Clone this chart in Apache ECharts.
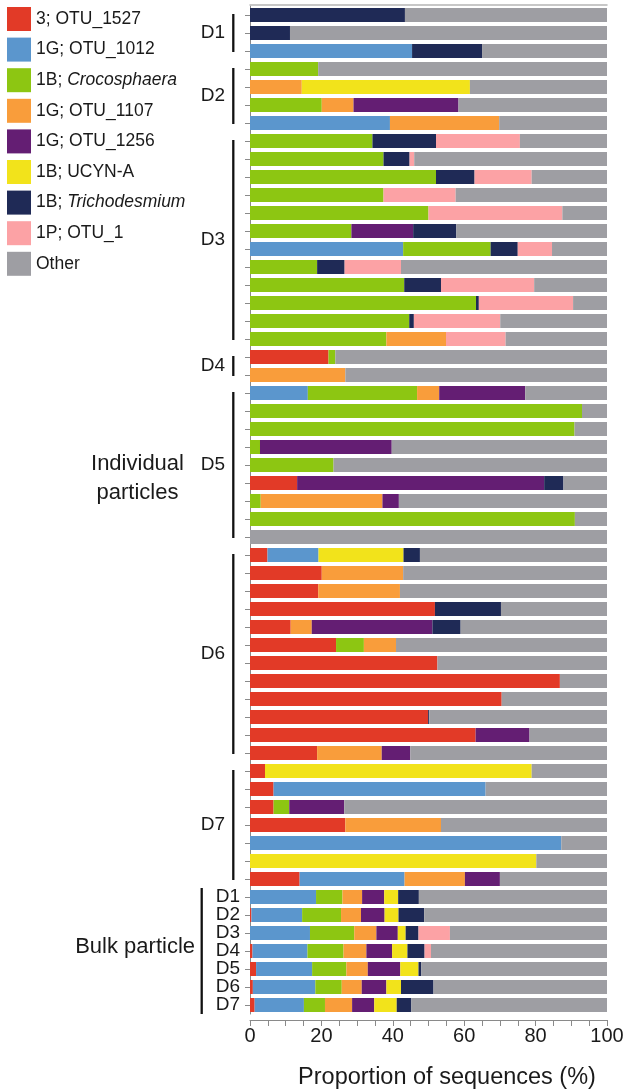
<!DOCTYPE html>
<html><head><meta charset="utf-8">
<script src="https://cdn.jsdelivr.net/npm/echarts@6/dist/echarts.min.js"></script>
<style>html,body{margin:0;padding:0;background:#fff}#c{width:634px;height:1090px}</style>
</head><body><div id="c"></div>
<script>
// Groups of individual particles (top to bottom) and bulk samples
const groupNames = ['D1','D2','D3','D4','D5','D6','D7'];
const groupSizes = [3,4,12,2,9,12,7];
const bulkLabels = ['D1','D2','D3','D4','D5','D6','D7'];
const xTicks = [0,20,40,60,80,100];

const seriesNames = ['3; OTU_1527','1G; OTU_1012','1B; Crocosphaera','1G; OTU_1107','1G; OTU_1256','1B; UCYN-A','1B; Trichodesmium','1P; OTU_1','Other'];

// Segment lengths (%) per bar, order: D1(3) D2(4) D3(12) D4(2) D5(9) D6(12) D7(7) Bulk(7)
const otu1527 = [0,0,0, 0,0,0,0, 0,0,0,0,0,0,0,0,0,0,0,0, 22.0,0, 0,0,0,0,0,13.2,0,0,0,
  4.9,20.1,19.1,51.8,11.4,24.1,52.5,86.8,70.5,49.9,63.2,18.8, 4.2,6.6,6.6,26.7,0,0,13.9,
  0,0.4,0,0.7,1.7,0.8,1.3];
const otu1012 = [0,0,45.4, 0,0,0,39.2, 0,0,0,0,0,0,42.9,0,0,0,0,0, 0,0, 16.2,0,0,0,0,0,0,0,0,
  14.3,0,0,0,0,0,0,0,0,0,0,0, 0,59.4,0,0,87.2,0,29.4,
  18.5,14.2,16.8,15.4,15.7,17.5,13.8];
const crocosphaera = [0,0,0, 19.1,0,20.1,0, 34.3,37.4,52.1,37.4,50.0,28.4,24.5,18.8,43.2,63.3,44.6,38.2, 1.9,0,
  30.6,93.0,90.9,2.8,23.4,0,3.0,91.0,0,
  0,0,0,0,0,7.8,0,0,0,0,0,0, 0,0,4.4,0,0,0,0,
  7.4,10.9,12.4,10.1,9.6,7.4,5.9];
const otu1107 = [0,0,0, 0,14.5,8.9,30.6, 0,0,0,0,0,0,0,0,0,0,0,16.7, 0,26.7,
  6.2,0,0,0,0,0,34.1,0,0,
  0,22.8,22.9,0,5.9,9.0,0,0,0,0,0,18.1, 0,0,0,26.8,0,0,16.9,
  5.5,5.6,6.2,6.4,6.0,5.6,7.6];
const otu1256 = [0,0,0, 0,0,29.4,0, 0,0,0,0,0,17.3,0,0,0,0,0,0, 0,0,
  24.1,0,0,36.9,0,69.2,4.6,0,0,
  0,0,0,0,33.8,0,0,0,0,0,15.1,8.0, 0,0,15.4,0,0,0,9.8,
  6.2,6.6,6.0,7.2,9.1,6.9,6.2];
const ucynA = [0,0,0, 0,47.1,0,0, 0,0,0,0,0,0,0,0,0,0,0,0, 0,0,
  0,0,0,0,0,0,0,0,0,
  23.8,0,0,0,0,0,0,0,0,0,0,0, 74.7,0,0,0,0,80.2,0,
  3.9,3.9,2.2,4.3,5.1,4.1,6.3];
const trichodesmium = [43.4,11.2,19.6, 0,0,0,0, 17.8,7.3,10.8,0,0,12.1,7.6,7.7,10.3,0.8,1.3,0, 0,0,
  0,0,0,0,0,5.4,0,0,0,
  4.6,0,0,18.5,7.9,0,0,0,0,0.3,0,0, 0,0,0,0,0,0,0,
  5.8,7.2,3.6,4.8,0.8,9.1,4.1];
const otu1 = [0,0,0, 0,0,0,0, 23.5,1.3,16.0,20.2,37.5,0,9.6,15.8,26.1,26.4,24.2,16.7, 0,0,
  0,0,0,0,0,0,0,0,0,
  0,0,0,0,0,0,0,0,0,0,0,0, 0,0,0,0,0,0,0,
  0,0,8.8,1.8,0,0,0];
const other = [56.6,88.8,35.0, 80.9,38.4,41.6,30.2, 24.4,54.0,21.1,42.4,12.5,42.2,15.4,57.7,20.4,9.5,29.9,28.4, 76.1,73.3,
  22.9,7.0,9.1,60.3,76.6,12.2,58.3,9.0,100,
  52.4,57.1,58.0,29.7,41.0,59.1,47.5,13.2,29.5,49.8,21.7,55.1, 21.1,34.0,73.6,46.5,12.8,19.8,30.0,
  52.7,51.2,44.0,49.3,52.0,48.6,54.8];

const colors = ['#e23a27','#5b96cd','#8dc612','#f99d3b','#641e73','#f2e31b','#1f2a56','#fca2a5','#9e9ea3'];
const values = [otu1527, otu1012, crocosphaera, otu1107, otu1256, ucynA, trichodesmium, otu1, other];

const categories = [];
groupNames.forEach((g,k)=>{ for(let i=0;i<groupSizes[k];i++) categories.push(g+'-'+(i+1)); });
bulkLabels.forEach(b=>categories.push('Bulk '+b));

const F = '"Liberation Sans", Arial, Helvetica, sans-serif';
const chart = echarts.init(document.getElementById('c'), null, {renderer:'canvas'});

chart.setOption({
  animation:false,
  backgroundColor:'#fff',
  textStyle:{fontFamily:F},
  legend:{
    orient:'vertical', left:2, top:2, itemWidth:24, itemHeight:24, itemGap:6.6, icon:'rect',
    data:seriesNames,
    textStyle:{fontSize:17.5, color:'#1a1a1a', fontFamily:F,
      rich:{i:{fontStyle:'italic', fontSize:17.5, color:'#1a1a1a', fontFamily:F}}},
    formatter:n=>n.replace(/(Crocosphaera|Trichodesmium)/,'{i|$1}'),
    selectedMode:false
  },
  grid:{left:250, right:27, top:6, height:1008, outerBoundsMode:'none', containLabel:false},
  xAxis:[{
    type:'value', min:0, max:100, interval:5, offset:6,
    axisLine:{show:true, lineStyle:{color:'#8a8a8a', width:1}},
    axisTick:{show:true, length:6, lineStyle:{color:'#8a8a8a'}},
    splitLine:{show:false},
    axisLabel:{fontSize:20, color:'#1a1a1a', margin:6, fontFamily:F,
      formatter:v=>xTicks.indexOf(v)>=0?String(v):''},
    name:'Proportion of sequences (%)', nameLocation:'middle', nameGap:46,
    nameTextStyle:{fontSize:23.5, color:'#1a1a1a', fontFamily:F, padding:[0,0,0,37]}
  },{
    type:'value', min:0, max:100, position:'top', offset:1,
    axisLine:{show:true, lineStyle:{color:'#b5b5b5', width:1.5}},
    axisTick:{show:false}, axisLabel:{show:false}, splitLine:{show:false}
  }],
  yAxis:{
    type:'category', inverse:true, data:categories,
    axisLine:{show:true, lineStyle:{color:'#8a8a8a', width:1}},
    axisTick:{show:true, alignWithLabel:true, interval:0, length:5, lineStyle:{color:'#8a8a8a'}},
    axisLabel:{interval:0, fontSize:19, color:'#1a1a1a', margin:10, fontFamily:F,
      formatter:v=>v.indexOf('Bulk ')===0?v.slice(5):''}
  },
  series:seriesNames.map((n,i)=>({
    name:n, type:'bar', stack:'all', barWidth:14, xAxisIndex:0,
    itemStyle:{color:colors[i]}, data:values[i]
  }))
});

// Group brackets and labels, positioned from the category axis
const yOf = c => chart.convertToPixel({yAxisIndex:0}, c);
const half = (yOf(categories[1]) - yOf(categories[0]))/2;
const gfx = [];
let idx = 0;
groupNames.forEach((name,k)=>{
  const y1 = yOf(categories[idx]), y2 = yOf(categories[idx+groupSizes[k]-1]);
  gfx.push({type:'line', shape:{x1:233.3,y1:y1-1,x2:233.3,y2:y2+1}, style:{stroke:'#111', lineWidth:2.3}});
  gfx.push({type:'text', x:225, y:(y1+y2)/2, style:{text:name, fontSize:19, fontFamily:F, fill:'#1a1a1a', align:'right', verticalAlign:'middle'}});
  idx += groupSizes[k];
});
const b1 = yOf(categories[idx]) - half, b2 = yOf(categories[categories.length-1]) + half;
gfx.push({type:'line', shape:{x1:201.7,y1:b1,x2:201.7,y2:b2}, style:{stroke:'#111', lineWidth:2.3}});
gfx.push({type:'text', x:195, y:(b1+b2)/2 - 4, style:{text:'Bulk particle', fontSize:22, fontFamily:F, fill:'#1a1a1a', align:'right', verticalAlign:'middle'}});
gfx.push({type:'text', x:137.5, y:478, style:{text:'Individual\nparticles', fontSize:22, lineHeight:29, fontFamily:F, fill:'#1a1a1a', align:'center', verticalAlign:'middle'}});
chart.setOption({graphic:gfx});
</script>
</body></html>
